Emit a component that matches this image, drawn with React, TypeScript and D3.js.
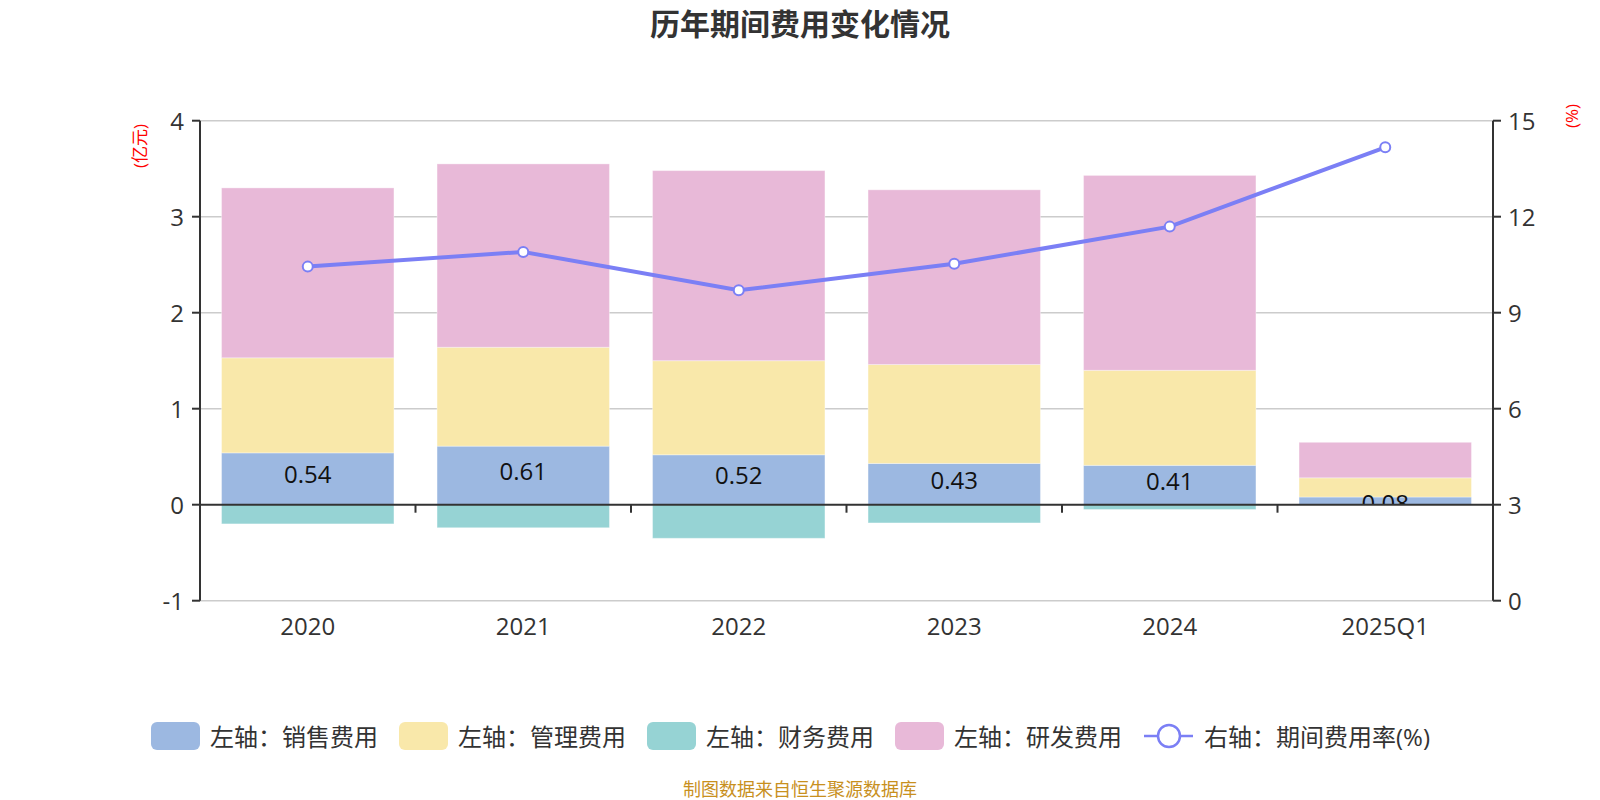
import * as d3 from "d3";

const categories = ["2020", "2021", "2022", "2023", "2024", "2025Q1"];
const salesFee = [0.54, 0.61, 0.52, 0.43, 0.41, 0.08];
const adminFee = [0.99, 1.03, 0.98, 1.03, 0.99, 0.2];
const financeFee = [-0.2, -0.24, -0.35, -0.19, -0.05, 0];
const rdFee = [1.77, 1.91, 1.98, 1.82, 2.03, 0.37];
const feeRate = [10.44, 10.9, 9.7, 10.53, 11.69, 14.17];

const leftTicks = [-1, 0, 1, 2, 3, 4];
const rightTicks = [0, 3, 6, 9, 12, 15];

const seriesKeys = ["sales", "admin", "finance", "rd"];
const seriesNames: Record<string, string> = {
  sales: "左轴：销售费用",
  admin: "左轴：管理费用",
  finance: "左轴：财务费用",
  rd: "左轴：研发费用",
};
const colors: Record<string, string> = {
  sales: "#9cb8e1",
  admin: "#f9e8aa",
  finance: "#96d3d4",
  rd: "#e8b9d8",
};
const lineColor = "#7b7ff5";

const FONT = "'Open Sans', 'Noto Sans CJK SC', sans-serif";

export default function App() {
  const width = 1600;
  const height = 800;
  const left = 200;
  const right = 1493;
  const top = 120.7;
  const bottom = 600.7;

  const rows = categories.map((c, i) => ({
    cat: c,
    sales: salesFee[i],
    admin: adminFee[i],
    finance: financeFee[i],
    rd: rdFee[i],
  }));

  const x = d3.scaleBand().domain(categories).range([left, right]).padding(0);
  const barW = x.bandwidth() * 0.8;
  const yL = d3.scaleLinear().domain([-1, 4]).range([bottom, top]);
  const yR = d3.scaleLinear().domain([0, 15]).range([bottom, top]);

  const stacked = d3
    .stack<any>()
    .keys(seriesKeys)
    .offset(d3.stackOffsetDiverging)(rows);

  const cx = (c: string) => (x(c) || 0) + x.bandwidth() / 2;

  const linePath = d3
    .line<number>()
    .x((_, i) => cx(categories[i]))
    .y((d) => yR(d))(feeRate);

  // label sits a bit above the middle, tiny segments let it sink into the axis
  const labelY = (v: number) => {
    const h = yL(0) - yL(v);
    return (yL(0) + yL(v)) / 2 + (h < 20 ? 2 : -5);
  };

  // legend layout
  const legendItems = [
    { key: "sales", x: 151 },
    { key: "admin", x: 399 },
    { key: "finance", x: 647 },
    { key: "rd", x: 895 },
  ];
  const legendY = 736;

  return (
    <div style={{ position: "fixed", left: 0, top: 0 }}>
      <svg width={width} height={height} style={{ display: "block", background: "#fff" }}>
        <defs>
          <clipPath id="aboveZero">
            <rect x={left} y={0} width={right - left} height={yL(0)} />
          </clipPath>
        </defs>

        <text
          x={800}
          y={23}
          textAnchor="middle"
          dominantBaseline="central"
          fontFamily={FONT}
          fontSize={30}
          fontWeight="bold"
          fill="#333"
        >
          历年期间费用变化情况
        </text>

        {/* grid lines */}
        {leftTicks
          .filter((t) => t !== 0)
          .map((t) => (
            <line
              key={"g" + t}
              x1={left}
              x2={right}
              y1={yL(t)}
              y2={yL(t)}
              stroke="#ccc"
              strokeWidth={1.5}
            />
          ))}

        {/* bars */}
        {stacked.map((layer) => (
          <g key={layer.key} fill={colors[layer.key]}>
            {layer.map((d, i) => {
              const y0 = yL(d[0]);
              const y1 = yL(d[1]);
              const h = Math.abs(y0 - y1);
              if (h < 0.01) return null;
              return (
                <rect
                  key={i}
                  x={cx(categories[i]) - barW / 2}
                  y={Math.min(y0, y1)}
                  width={barW}
                  height={h}
                  stroke="#ffffff"
                  strokeOpacity={0.35}
                  strokeWidth={1}
                />
              );
            })}
          </g>
        ))}

        {/* sales labels */}
        <g clipPath="url(#aboveZero)">
          {salesFee.map((v, i) => (
            <text
              key={i}
              x={cx(categories[i])}
              y={labelY(v)}
              textAnchor="middle"
              dominantBaseline="central"
              fontFamily={FONT}
              fontSize={24}
              fill="#111"
            >
              {v.toFixed(2)}
            </text>
          ))}
        </g>

        {/* left axis */}
        <line x1={left} x2={left} y1={top} y2={bottom} stroke="#333" strokeWidth={2} />
        {leftTicks.map((t) => (
          <g key={"l" + t}>
            <line x1={left - 8} x2={left} y1={yL(t)} y2={yL(t)} stroke="#333" strokeWidth={2} />
            <text
              x={left - 16}
              y={yL(t)}
              textAnchor="end"
              dominantBaseline="central"
              fontFamily={FONT}
              fontSize={24}
              fill="#333"
            >
              {t}
            </text>
          </g>
        ))}

        {/* right axis */}
        <line x1={right} x2={right} y1={top} y2={bottom} stroke="#333" strokeWidth={2} />
        {rightTicks.map((t) => (
          <g key={"r" + t}>
            <line x1={right} x2={right + 8} y1={yR(t)} y2={yR(t)} stroke="#333" strokeWidth={2} />
            <text
              x={right + 15}
              y={yR(t)}
              textAnchor="start"
              dominantBaseline="central"
              fontFamily={FONT}
              fontSize={24}
              fill="#333"
            >
              {t}
            </text>
          </g>
        ))}

        {/* x axis on zero */}
        <line x1={left} x2={right} y1={yL(0)} y2={yL(0)} stroke="#333" strokeWidth={2} />
        {categories.slice(1).map((c) => (
          <line
            key={"xt" + c}
            x1={x(c)}
            x2={x(c)}
            y1={yL(0)}
            y2={yL(0) + 8}
            stroke="#333"
            strokeWidth={2}
          />
        ))}
        {categories.map((c) => (
          <text
            key={"xl" + c}
            x={cx(c)}
            y={625}
            textAnchor="middle"
            dominantBaseline="central"
            fontFamily={FONT}
            fontSize={24}
            fill="#333"
          >
            {c}
          </text>
        ))}

        {/* axis units */}
        <text
          transform={`translate(139,146) rotate(-90)`}
          textAnchor="middle"
          dominantBaseline="central"
          fontFamily={FONT}
          fontSize={17}
          fill="#f00"
        >
          (亿元)
        </text>
        <text
          transform={`translate(1571,116) rotate(-90)`}
          textAnchor="middle"
          dominantBaseline="central"
          fontFamily={FONT}
          fontSize={17}
          fill="#f00"
        >
          (%)
        </text>

        {/* rate line */}
        <path d={linePath || ""} fill="none" stroke={lineColor} strokeWidth={4} />
        {feeRate.map((v, i) => (
          <circle
            key={"p" + i}
            cx={cx(categories[i])}
            cy={yR(v)}
            r={5}
            fill="#fff"
            stroke={lineColor}
            strokeWidth={2}
          />
        ))}

        {/* legend */}
        {legendItems.map((it) => (
          <g key={"lg" + it.key}>
            <rect
              x={it.x}
              y={legendY - 14}
              width={49}
              height={28}
              rx={6}
              fill={colors[it.key]}
            />
            <text
              x={it.x + 59}
              y={legendY}
              dominantBaseline="central"
              fontFamily={FONT}
              fontSize={24}
              fill="#333"
            >
              {seriesNames[it.key]}
            </text>
          </g>
        ))}
        <g>
          <line x1={1144} x2={1193} y1={legendY} y2={legendY} stroke={lineColor} strokeWidth={2.5} />
          <circle cx={1169} cy={legendY} r={11} fill="#fff" stroke={lineColor} strokeWidth={2.5} />
          <text
            x={1204}
            y={legendY}
            dominantBaseline="central"
            fontFamily={FONT}
            fontSize={24}
            fill="#333"
          >
            右轴：期间费用率(%)
          </text>
        </g>

        <text
          x={800}
          y={789}
          textAnchor="middle"
          dominantBaseline="central"
          fontFamily={FONT}
          fontSize={18}
          fill="#c8901e"
        >
          制图数据来自恒生聚源数据库
        </text>
      </svg>
    </div>
  );
}
